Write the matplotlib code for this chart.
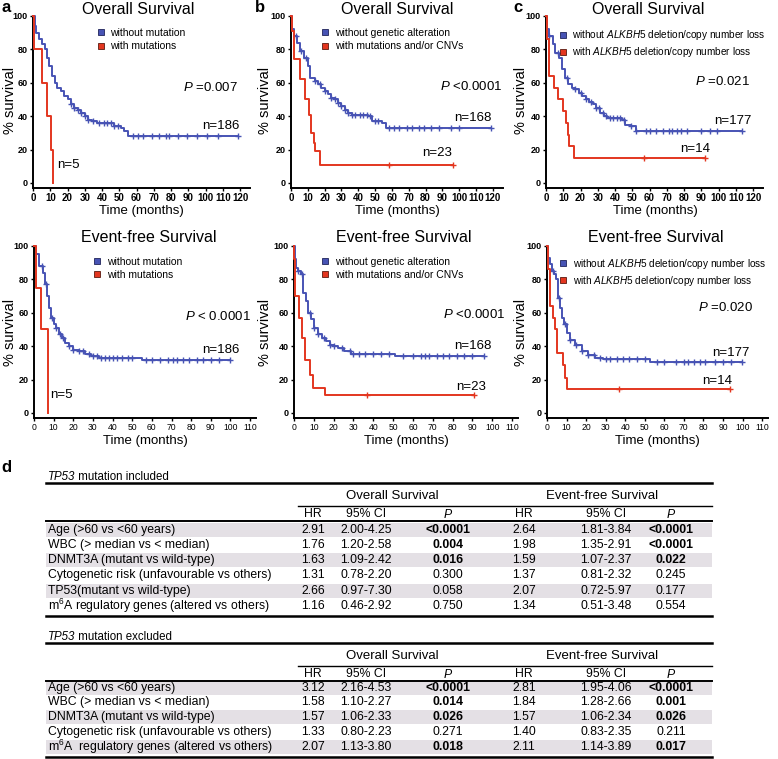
import matplotlib
matplotlib.use("Agg")
import matplotlib.pyplot as plt
from matplotlib.lines import Line2D
from matplotlib.patches import Rectangle
import numpy as np

plt.rcParams['font.family'] = ['Liberation Sans', 'DejaVu Sans']
plt.rcParams['mathtext.fontset'] = 'custom'
plt.rcParams['mathtext.rm'] = 'Liberation Sans'
plt.rcParams['mathtext.it'] = 'Liberation Sans:italic'
plt.rcParams['mathtext.bf'] = 'Liberation Sans:bold'

BLUE = '#4753b4'
RED = '#e3361f'

# ---- Kaplan-Meier step data (time in months, % survival) ----
# a: TP53 mutation
a_os_blue_t = [0, 1, 2, 3.5, 5, 7, 8, 9.5, 11, 12.5, 14, 16, 18, 20, 22, 24, 26, 28, 30, 32, 34, 37, 47, 51, 53, 55, 119]
a_os_blue_s = [100, 94, 90, 86, 83, 80, 75, 70, 64, 60, 57, 55, 52, 50, 47, 45, 44, 42, 40, 38, 37, 36, 34, 33, 31, 28.4, 28.4]
a_os_blue_c = [22, 24, 26, 28, 30, 32, 35, 38, 41, 43, 45, 47, 49, 58, 61, 64, 69, 73, 77, 79, 84, 89, 95, 101, 107, 119]
a_os_red_t = [0, 0.5, 5, 8, 10.5, 11.5]
a_os_red_s = [100, 80, 60, 40, 20, 0]

a_efs_blue_t = [0, 1, 2.5, 4.5, 5.5, 6.5, 7.5, 8.5, 10, 11, 12.5, 14, 16, 18, 20, 23, 26, 29, 33, 55, 100]
a_efs_blue_s = [100, 95, 88, 84, 77, 70, 63, 57, 53, 51, 47, 45, 42, 40, 38, 37, 35.5, 34, 33, 31.5, 31.5]
a_efs_blue_c = [4, 6, 9, 11, 13, 15, 18, 20, 23, 25, 28, 30, 32, 34, 36, 38, 40, 42, 45, 48, 50, 57, 60, 64, 68,
                71, 73, 76, 79, 83, 86, 90, 94, 100]
a_efs_red_t = [0, 1, 3.5, 7]
a_efs_red_s = [100, 75, 50, 0]

# b: mutations and/or CNVs
b_os_blue_t = [0, 0.5, 1.5, 3.5, 5.5, 8, 10, 11.5, 14, 16, 18, 20, 22, 24, 26, 28, 30, 32, 34, 36, 46, 48, 54, 56.5, 119]
b_os_blue_s = [100, 92, 88, 84, 79, 75, 70, 63, 61, 59, 57, 55, 53, 51, 50, 48, 46, 44, 42, 41, 40, 37, 36, 33, 33]
b_os_blue_c = [3, 6, 9, 14, 17, 20, 24, 26, 28, 30, 32, 34, 36, 38, 41, 43, 45, 47, 50, 52, 58, 61, 64, 69, 72, 76,
               79, 83, 88, 95, 100, 119]
b_os_red_t = [0, 0.5, 2, 5.5, 8.5, 10.5, 12, 13.5, 14.5, 17.5, 96.5]
b_os_red_s = [100, 91.3, 74, 62, 50, 41, 30, 24, 19, 11, 11]
b_os_red_c = [58, 96.5]

b_efs_blue_t = [0, 0.5, 1, 2, 3.5, 4.5, 6, 7, 8.5, 10, 12, 14, 16, 18, 20, 22, 25, 29, 51, 96]
b_efs_blue_s = [100, 92, 87, 85, 83, 72, 67, 60, 56, 51, 47, 45, 43, 41, 40, 39, 37, 35.5, 34, 34]
b_efs_blue_c = [2, 4, 8, 10, 12, 15, 18, 20, 24, 28, 30, 33, 36, 40, 44, 48, 55, 60, 64, 66, 68, 72, 75, 78, 82,
                86, 90, 96]
b_efs_red_t = [0, 0.2, 0.5, 2.7, 4, 5.5, 8, 9.7, 15.5, 91]
b_efs_red_s = [100, 92, 70, 57, 45, 32, 23, 15, 11, 11]
b_efs_red_c = [37, 91]

# c: ALKBH5 deletion/copy number loss
c_os_blue_t = [0, 0.5, 2, 4, 5.5, 7.5, 9, 11, 13, 15, 17, 19, 21, 23, 25, 27, 29, 31.5, 33.5, 35.5, 44, 46, 49, 52, 113.6]
c_os_blue_s = [100, 92, 88, 83, 78, 75, 68, 63, 59, 57, 56, 54, 52, 50, 48.5, 47, 45, 42, 40, 39, 38, 35, 34, 31, 31]
c_os_blue_c = [2, 7, 12, 17, 20, 23, 26, 29, 31, 33, 35, 37, 39, 41, 43, 45, 49, 52, 58, 60, 64, 68, 71, 73, 76, 78,
               82, 90, 95, 99, 113.6]
c_os_red_t = [0, 0.3, 1.5, 4.5, 7, 10, 11.5, 12.5, 13.5, 16.5, 92.4]
c_os_red_s = [100, 86, 64, 57, 50, 43, 36, 29, 22, 15, 15]
c_os_red_c = [57, 92.4]

c_efs_blue_t = [0, 0.7, 1.5, 2.7, 3.7, 4.4, 5.5, 6.6, 7.5, 8.9, 10, 11.8, 14.3, 17.7, 21, 24.6, 28.8, 52.7, 99.6]
c_efs_blue_s = [100, 93, 89, 85, 83, 80, 69, 63, 57, 53, 48, 44, 41, 37, 35, 33, 32.3, 30.3, 30.3]
c_efs_blue_c = [3, 6, 9, 12, 15, 18, 21, 24, 27, 30, 32, 36, 39, 42, 46, 50, 56, 60, 66, 70, 72, 75, 78, 81, 86,
                90, 94, 99.6]
c_efs_red_t = [0, 0.3, 1.5, 3.2, 4.1, 5, 8.4, 9, 10, 93.6]
c_efs_red_s = [100, 86, 64, 57, 50, 36, 29, 21, 14.5, 14.5]
c_efs_red_c = [37, 93.6]

legend_a = ['without mutation', 'with mutations']
legend_b = ['without genetic alteration', 'with mutations and/or CNVs']
legend_c = [r'without $ALKBH5$ deletion/copy number loss', r'with $ALKBH5$ deletion/copy number loss']

n_labels = {'a_os': ('n=186', 'n=5'), 'b_os': ('n=168', 'n=23'), 'c_os': ('n=177', 'n=14'),
            'a_efs': ('n=186', 'n=5'), 'b_efs': ('n=168', 'n=23'), 'c_efs': ('n=177', 'n=14')}
p_labels = {'a_os': '=0.007', 'b_os': '<0.0001', 'c_os': '=0.021',
            'a_efs': '< 0.0001', 'b_efs': '<0.0001', 'c_efs': '=0.020'}

# ---- table data ----
row_names_1 = ['Age (>60 vs <60 years)', 'WBC (> median vs < median)', 'DNMT3A (mutant vs wild-type)',
               'Cytogenetic risk (unfavourable vs others)', 'TP53(mutant vs wild-type)',
               r'm$^6$A regulatory genes (altered vs others)']
os_hr_1 = ['2.91', '1.76', '1.63', '1.31', '2.66', '1.16']
os_ci_1 = ['2.00-4.25', '1.20-2.58', '1.09-2.42', '0.78-2.20', '0.97-7.30', '0.46-2.92']
os_p_1 = ['<0.0001', '0.004', '0.016', '0.300', '0.058', '0.750']
efs_hr_1 = ['2.64', '1.98', '1.59', '1.37', '2.07', '1.34']
efs_ci_1 = ['1.81-3.84', '1.35-2.91', '1.07-2.37', '0.81-2.32', '0.72-5.97', '0.51-3.48']
efs_p_1 = ['<0.0001', '<0.0001', '0.022', '0.245', '0.177', '0.554']

row_names_2 = ['Age (>60 vs <60 years)', 'WBC (> median vs < median)', 'DNMT3A (mutant vs wild-type)',
               'Cytogenetic risk (unfavourable vs others)', r'm$^6$A  regulatory genes (altered vs others)']
os_hr_2 = ['3.12', '1.58', '1.57', '1.33', '2.07']
os_ci_2 = ['2.16-4.53', '1.10-2.27', '1.06-2.33', '0.80-2.23', '1.13-3.80']
os_p_2 = ['<0.0001', '0.014', '0.026', '0.271', '0.018']
efs_hr_2 = ['2.81', '1.84', '1.57', '1.40', '2.11']
efs_ci_2 = ['1.95-4.06', '1.28-2.66', '1.06-2.34', '0.83-2.35', '1.14-3.89']
efs_p_2 = ['<0.0001', '0.001', '0.026', '0.211', '0.017']

W, H = 778, 759
fig = plt.figure(figsize=(W / 100, H / 100), dpi=100)


def px_axes(x0, y_top, w, y_bot):
    return fig.add_axes([x0 / W, 1 - y_bot / H, w / W, (y_bot - y_top) / H])


def surv_at(t, s, times):
    idx = np.searchsorted(t, times, side='right') - 1
    return np.array(s)[idx]


def km_panel(ax, blue, red, xmax, xticks, tick_fs, tick_w):
    for (t, s, c), col in ((blue, BLUE), (red, RED)):
        ax.step(t, s, where='post', color=col, lw=1.4, clip_on=False, zorder=3)
        if c:
            ax.plot(c, surv_at(t, s, c), ls='', marker='+', ms=4, mew=1.0, color=col, clip_on=False, zorder=3)
    ax.set_xlim(0, xmax)
    ax.set_ylim(-3, 101)
    ax.spines['top'].set_visible(False)
    ax.spines['right'].set_visible(False)
    ax.spines['left'].set_bounds(-3, 100)
    for sp in ('left', 'bottom'):
        ax.spines[sp].set_linewidth(1.4)
    ax.set_yticks([0, 20, 40, 60, 80, 100])
    ax.set_xticks(xticks)
    ax.tick_params(axis='both', length=2.5, width=1, pad=1.5)
    ax.tick_params(axis='x', pad=1)
    ax.tick_params(axis='y', labelsize=6.5)
    ax.tick_params(axis='x', labelsize=tick_fs)
    for lab in ax.get_yticklabels():
        lab.set_fontweight('bold')
    for lab in ax.get_xticklabels():
        lab.set_fontweight(tick_w)
    ax.patch.set_alpha(0)


def legend(ax, labels, x, y, fs):
    h = [Line2D([], [], ls='', marker='s', ms=5, mfc=BLUE, mec='#20245a', mew=0.6),
         Line2D([], [], ls='', marker='s', ms=5, mfc=RED, mec='#5a1a10', mew=0.6)]
    ax.legend(h, labels, loc='upper left', bbox_to_anchor=(x, y), frameon=False, fontsize=fs,
              handlelength=0.7, handletextpad=0.6, labelspacing=0.3, borderpad=0, borderaxespad=0)


top_ticks = list(range(0, 121, 10))
bot_ticks = list(range(0, 111, 10))

panels = [
    ('a_os', px_axes(33, 14.3, 217.4, 188), (a_os_blue_t, a_os_blue_s, a_os_blue_c), (a_os_red_t, a_os_red_s, []),
     126, top_ticks, legend_a, (0.294, 0.921), 7.5, (87, 57), (98, 34), (14, 11)),
    ('b_os', px_axes(291, 14.3, 212, 188), (b_os_blue_t, b_os_blue_s, b_os_blue_c), (b_os_red_t, b_os_red_s, b_os_red_c),
     126, top_ticks, legend_b, (0.144, 0.921), 7.5, (88.5, 57.5), (97, 39), (78, 18)),
    ('c_os', px_axes(546, 14.3, 217.4, 188), (c_os_blue_t, c_os_blue_s, c_os_blue_c), (c_os_red_t, c_os_red_s, c_os_red_c),
     126, top_ticks, legend_c, (0.062, 0.921), 7.2, (86.4, 60.5), (97.4, 37), (77.7, 20.5)),
    ('a_efs', px_axes(34, 244.3, 222, 418), (a_efs_blue_t, a_efs_blue_s, a_efs_blue_c), (a_efs_red_t, a_efs_red_s, []),
     113, bot_ticks, legend_a, (0.268, 0.927), 7.5, (77, 57.5), (85.5, 38), (8, 10.8)),
    ('b_efs', px_axes(294, 244.3, 224, 418), (b_efs_blue_t, b_efs_blue_s, b_efs_blue_c), (b_efs_red_t, b_efs_red_s, b_efs_red_c),
     113, bot_ticks, legend_b, (0.123, 0.927), 7.5, (75, 58.7), (81, 40), (82, 15.5)),
    ('c_efs', px_axes(547, 244.3, 221, 418), (c_efs_blue_t, c_efs_blue_s, c_efs_blue_c), (c_efs_red_t, c_efs_red_s, c_efs_red_c),
     113, bot_ticks, legend_c, (0.057, 0.927), 7.2, (77, 62.9), (84.4, 36), (79.3, 19)),
]

for key, ax, blue, red, xmax, ticks, leg, legpos, legfs, ppos, n1pos, n2pos in panels:
    top = key.endswith('os')
    km_panel(ax, blue, red, xmax, ticks, 7 if top else 6.2, 'bold' if top else 'normal')
    legend(ax, leg, legpos[0], legpos[1], legfs)
    ax.text(ppos[0], ppos[1], r'$P$ ' + p_labels[key], fontsize=9.5, va='center', ha='left')
    ax.text(n1pos[0], n1pos[1], n_labels[key][0], fontsize=9.5, va='center', ha='left')
    ax.text(n2pos[0], n2pos[1], n_labels[key][1], fontsize=9.5, va='center', ha='left')

# titles, axis labels, panel letters (pixel positions)
def ftext(x, y, s, **kw):
    fig.text(x / W, 1 - y / H, s, **kw)

for cx in (138, 397, 648):
    ftext(cx, 10, 'Overall Survival', fontsize=11.5, ha='center', va='center')
for cx in (149, 404, 656):
    ftext(cx, 238, 'Event-free Survival', fontsize=11.5, ha='center', va='center')
for cx in (141, 397, 655):
    ftext(cx, 211, 'Time (months)', fontsize=9.5, ha='center', va='center')
for cx in (145, 406, 657):
    ftext(cx, 441, 'Time (months)', fontsize=9.5, ha='center', va='center')
for lx in (10, 265, 521):
    ftext(lx, 100, '% survival', fontsize=10.5, rotation=90, ha='center', va='center')
    ftext(lx, 332, '% survival', fontsize=10.5, rotation=90, ha='center', va='center')
for lx, ly, s in ((6, 8, 'a'), (260, 8, 'b'), (518, 8, 'c'), (6, 467, 'd')):
    ftext(lx, ly, s, fontsize=12, fontweight='bold', ha='center', va='center')

# ---- tables ----
tab = fig.add_axes([0, 0, 1, 1])
tab.set_xlim(0, W)
tab.set_ylim(H, 0)
tab.axis('off')
tab.patch.set_alpha(0)

L, R = 46, 712
col_x = [313, 366, 448, 524, 606, 671]
FS = 8.8


def draw_table(rest, y0, ys, names, cols):
    tab.text(L + 2, y0, 'TP53', fontsize=8.3, fontstyle='italic', va='center', ha='left')
    tab.text(L + 29.5, y0, rest, fontsize=8.3, va='center', ha='left')
    tab.plot([L, R], [y0 + 6, y0 + 6], color='black', lw=1.8)
    yh = y0 + 19
    tab.text(392, yh, 'Overall Survival', fontsize=9.5, ha='center', va='center')
    tab.text(602, yh, 'Event-free Survival', fontsize=9.5, ha='center', va='center')
    tab.plot([298, R], [yh + 10, yh + 10], color='black', lw=1.0)
    ysub = yh + 18
    for x, s in zip(col_x, ['HR', '95% CI', r'$P$', 'HR', '95% CI', r'$P$']):
        tab.text(x, ysub, s, fontsize=FS, ha='center', va='center')
    tab.plot([L, R], [ysub + 7, ysub + 7], color='black', lw=1.4)
    for i, (y, name) in enumerate(zip(ys, names)):
        if i % 2 == 0:
            tab.add_patch(Rectangle((L, y - 7), R - L, 14, color='#e4e0e5', lw=0, zorder=0))
        tab.text(L + 2, y, name, fontsize=FS, ha='left', va='center')
        for j, (x, col) in enumerate(zip(col_x, cols)):
            v = col[i]
            bold = False
            if j in (2, 5):
                bold = v.startswith('<') or float(v) < 0.05
            tab.text(x, y, v, fontsize=FS, ha='center', va='center', fontweight='bold' if bold else 'normal')
    tab.plot([L, R], [ys[-1] + 9.5, ys[-1] + 9.5], color='black', lw=1.8)


draw_table(' mutation included', 477, [530, 545, 560, 575, 591, 606], row_names_1,
           [os_hr_1, os_ci_1, os_p_1, efs_hr_1, efs_ci_1, efs_p_1])
draw_table(' mutation excluded', 637, [688, 702, 717, 732, 747], row_names_2,
           [os_hr_2, os_ci_2, os_p_2, efs_hr_2, efs_ci_2, efs_p_2])

fig.savefig('out.png', dpi=100)
